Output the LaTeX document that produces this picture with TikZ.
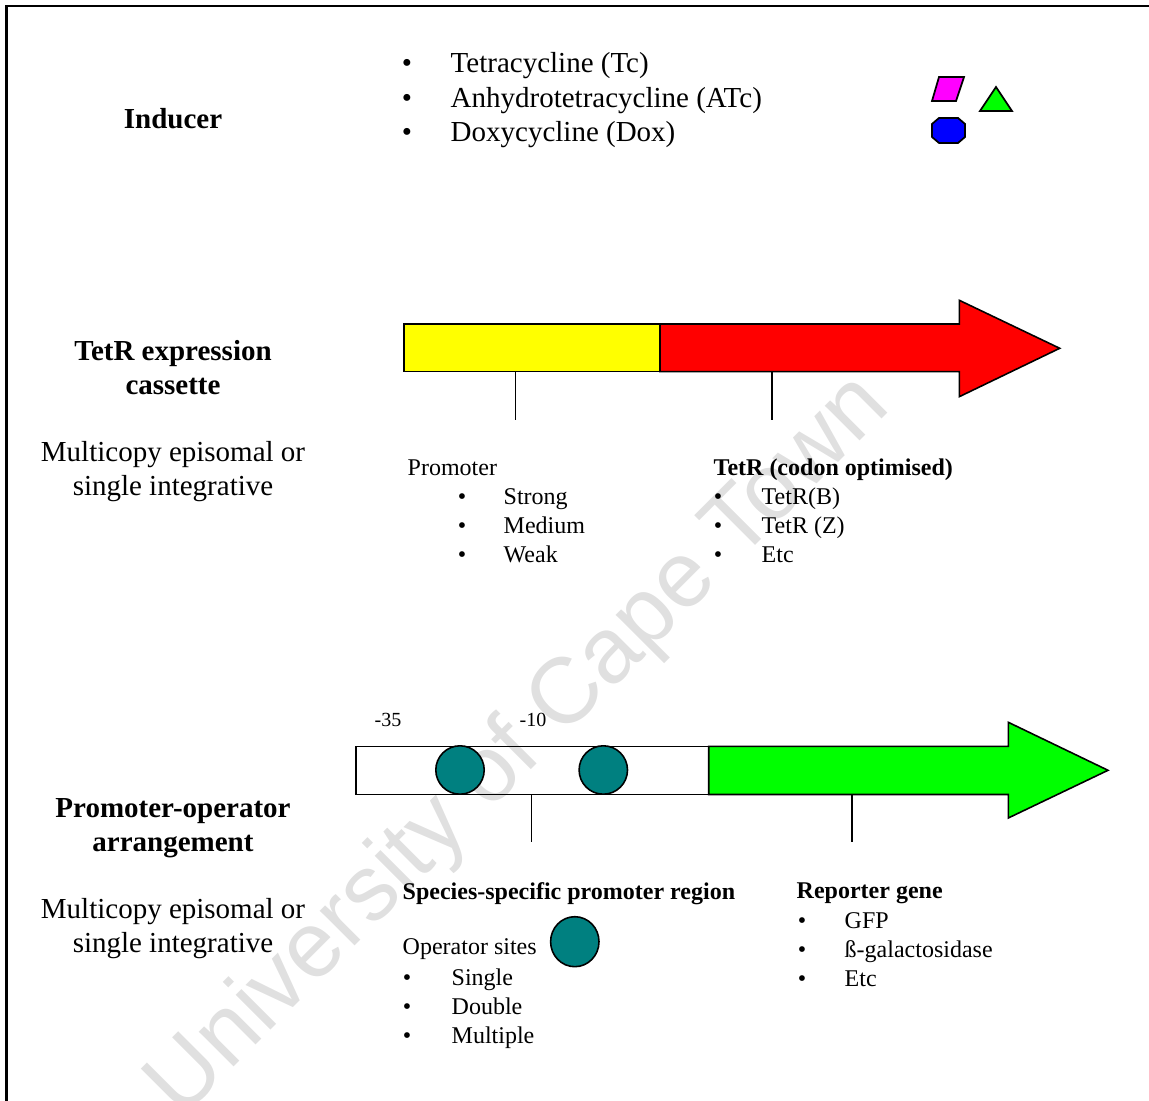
\documentclass[tikz,border=0pt]{standalone}
\usepackage{fontspec}
\setmainfont{Liberation Serif}
\newfontfamily\wmfont{Liberation Sans}
\usepackage{tikz}
\usetikzlibrary{shapes.geometric}
\definecolor{molpink}{RGB}{255,0,255}
\definecolor{molgreen}{RGB}{0,255,0}
\definecolor{molblue}{RGB}{0,0,255}
\definecolor{promyellow}{RGB}{255,255,0}
\definecolor{tetrred}{RGB}{255,0,0}
\definecolor{sitecol}{RGB}{0,128,128}
\tikzset{
	big/.style={font=\fontsize{8.25}{9.7}\selectfont, inner sep=0pt},
	bigbf/.style={font=\fontsize{8.25}{9.7}\selectfont\bfseries, inner sep=0pt},
	small/.style={font=\fontsize{6.83}{8.4}\selectfont, inner sep=0pt},
	smallbf/.style={font=\fontsize{6.83}{8.4}\selectfont\bfseries, inner sep=0pt},
	tiny/.style={font=\fontsize{5.7}{7}\selectfont, inner sep=0pt},
	gene/.style={draw=black, line width=0.45pt, line join=miter},
	tick/.style={line width=0.45pt},
	site/.style={draw=black, fill=sitecol, line width=0.45pt, inner sep=0pt},
	mol/.style={draw=black, line width=0.5pt, line join=miter}
}

\begin{document}
\begin{tikzpicture}
		\useasboundingbox (0,0) rectangle (11.49,-11.01);
		% watermark
		\node[rotate=45, text=black!12, font=\wmfont\fontsize{26.5}{30}\selectfont] (wm) at (5.2,-7.47) {University of Cape Town};
		% frame
		\draw[line width=0.6pt] (0.065,-11.01) -- (0.065,-0.057) -- (11.49,-0.057);

		% inducer
		\node[bigbf, anchor=base] (ind) at (1.73,-1.29) {Inducer};
		\foreach \txt [count=\i] in {Tetracycline (Tc), Anhydrotetracycline (ATc), Doxycycline (Dox)} {
			\node[big, anchor=base] (ib\i) at (4.07,{-0.73-0.345*(\i-1)}) {\textbullet};
			\node[big, anchor=base west] (it\i) at (4.50,{-0.73-0.345*(\i-1)}) {\txt};
		}
		\draw[mol, fill=molpink] (9.32,-1.01) -- (9.39,-0.77) -- (9.64,-0.77) -- (9.56,-1.01) -- cycle;
		\draw[mol, fill=molgreen] (9.80,-1.11) -- (9.96,-0.87) -- (10.12,-1.11) -- cycle;
		\draw[mol, fill=molblue] (9.39,-1.18) -- (9.58,-1.18) -- (9.65,-1.24) -- (9.65,-1.37) -- (9.58,-1.43)
			-- (9.39,-1.43) -- (9.32,-1.37) -- (9.32,-1.24) -- cycle;

		% TetR expression cassette
		\node[bigbf, align=center] (tetr) at (1.73,-3.68) {TetR expression\\cassette};
		\node[big, align=center] (copy1) at (1.73,-4.72) {Multicopy episomal or\\single integrative};
		\draw[gene, fill=tetrred] (6.60,-3.24) -- (9.593,-3.24) -- (9.593,-3.003) -- (10.597,-3.483)
			-- (9.593,-3.967) -- (9.593,-3.717) -- (6.60,-3.717) -- cycle;
		\draw[gene, fill=promyellow] (4.04,-3.24) rectangle (6.60,-3.717);
		\coordinate (pt) at (5.157,-3.717);
		\coordinate (pb) at (5.157,-4.20);
		\coordinate (rt) at (7.72,-3.717);
		\coordinate (rb) at (7.72,-4.20);
		\draw[tick] (pt) -- (pb);
		\draw[tick] (rt) -- (rb);

		\node[small, anchor=base west] (prom) at (4.07,-4.76) {Promoter};
		\foreach \txt [count=\i] in {Strong, Medium, Weak} {
			\node[small, anchor=base] (pbul\i) at (4.62,{-5.05-0.29*(\i-1)}) {\textbullet};
			\node[small, anchor=base west] (ptxt\i) at (5.03,{-5.05-0.29*(\i-1)}) {\txt};
		}
		\node[smallbf, anchor=base west] (tet) at (7.13,-4.76) {TetR (codon optimised)};
		\foreach \txt [count=\i] in {TetR(B), TetR (Z), Etc} {
			\node[small, anchor=base] (tbul\i) at (7.18,{-5.05-0.29*(\i-1)}) {\textbullet};
			\node[small, anchor=base west] (ttxt\i) at (7.61,{-5.05-0.29*(\i-1)}) {\txt};
		}

		% promoter-operator arrangement
		\node[bigbf, align=center] (proop) at (1.73,-8.28) {Promoter-operator\\arrangement};
		\node[big, align=center] (copy2) at (1.73,-9.29) {Multicopy episomal or\\single integrative};
		\node[tiny, anchor=base] (m35) at (3.88,-7.267) {-35};
		\node[tiny, anchor=base] (m10) at (5.33,-7.267) {-10};
		\draw[gene] (3.56,-7.463) rectangle (7.087,-7.945);
		\draw[gene, fill=molgreen] (7.087,-7.463) -- (10.083,-7.463) -- (10.083,-7.223) -- (11.08,-7.703)
			-- (10.083,-8.18) -- (10.083,-7.945) -- (7.087,-7.945) -- cycle;
		\node[site, circle, minimum size=0.484cm] (op1) at (4.60,-7.70) {};
		\node[site, circle, minimum size=0.484cm] (op2) at (6.033,-7.70) {};
		\coordinate (st) at (5.317,-7.945);
		\coordinate (sb) at (5.317,-8.423);
		\coordinate (gt) at (8.52,-7.945);
		\coordinate (gb) at (8.52,-8.423);
		\draw[tick] (st) -- (sb);
		\draw[tick] (gt) -- (gb);

		\node[smallbf, anchor=base west] (spec) at (4.02,-9.00) {Species-specific promoter region};
		\node[small, anchor=base west] (opsites) at (4.02,-9.55) {Operator sites};
		\node[site, ellipse, minimum width=0.484cm, minimum height=0.5cm] (opkey) at (5.748,-9.417) {};
		\foreach \txt [count=\i] in {Single, Double, Multiple} {
			\node[small, anchor=base] (obul\i) at (4.07,{-9.85-0.293*(\i-1)}) {\textbullet};
			\node[small, anchor=base west] (otxt\i) at (4.51,{-9.85-0.293*(\i-1)}) {\txt};
		}
		\node[smallbf, anchor=base west] (rep) at (7.96,-8.99) {Reporter gene};
		\foreach \txt [count=\i] in {GFP, ß-galactosidase, Etc} {
			\node[small, anchor=base] (rbul\i) at (8.02,{-9.283-0.292*(\i-1)}) {\textbullet};
			\node[small, anchor=base west] (rtxt\i) at (8.44,{-9.283-0.292*(\i-1)}) {\txt};
		}
\end{tikzpicture}
\end{document}
